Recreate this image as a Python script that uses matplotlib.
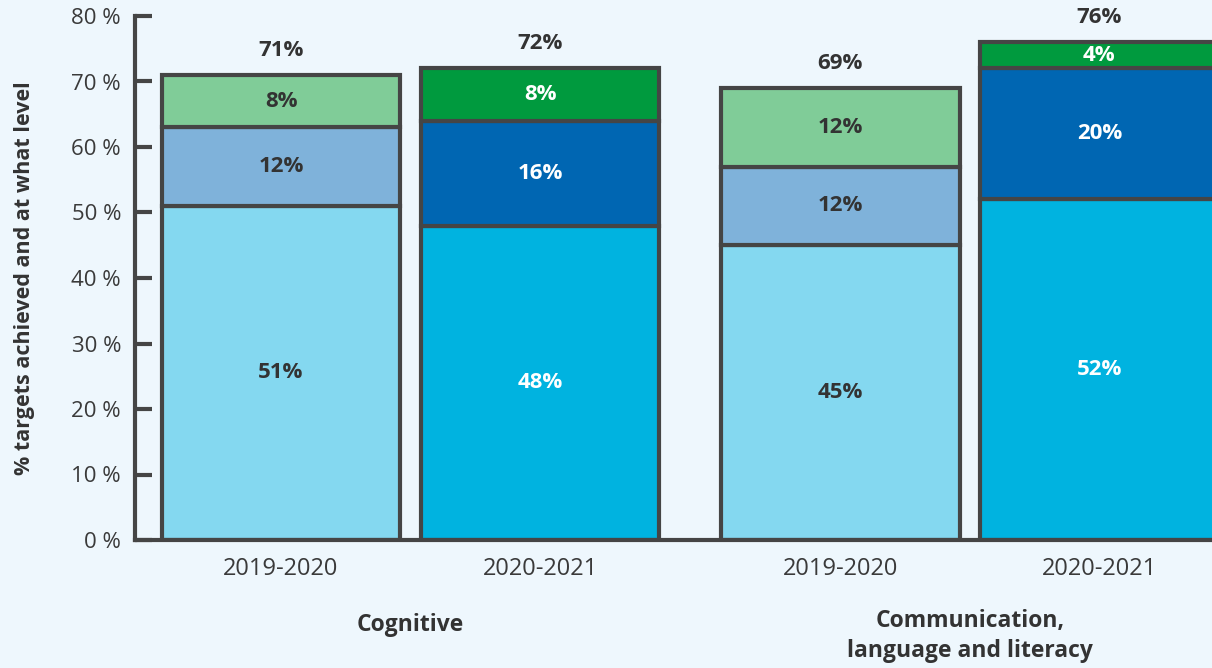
import numpy as np
import matplotlib
matplotlib.use('Agg')
from matplotlib import pyplot as plt
from matplotlib.transforms import blended_transform_factory

plt.rcParams['font.family'] = ['Open Sans', 'DejaVu Sans']

# data
years = ['2019-2020', '2020-2021', '2019-2020', '2020-2021']
groups = ['Cognitive', 'Communication,\nlanguage and literacy']
base = [51, 48, 45, 52]
middle = [12, 16, 12, 20]
top = [8, 8, 12, 4]
totals = [71, 72, 69, 76]
ytick_vals = [0, 10, 20, 30, 40, 50, 60, 70, 80]
ytick_labels = ['0 %', '10 %', '20 %', '30 %', '40 %', '50 %', '60 %', '70 %', '80 %']

bg = '#eef7fd'
edge = '#454545'
txt = '#333333'
col_base = ['#84d8f0', '#00b3e0', '#84d8f0', '#00b3e0']
col_mid = ['#7fb2da', '#0066b2', '#7fb2da', '#0066b2']
col_top = ['#80cc98', '#009a3e', '#80cc98', '#009a3e']
lab_col = [txt, 'white', txt, 'white']

x = np.array([0, 1, 2.16, 3.16])
w = 0.92

fig = plt.figure(figsize=(12.12, 6.68), dpi=100, facecolor=bg)
ax = fig.add_axes([135/1212, 128/668, 1 - 135/1212, (540-16)/668])
ax.set_facecolor(bg)

base = np.array(base); middle = np.array(middle); top = np.array(top)
ax.bar(x, base, w, color=col_base, edgecolor=edge, linewidth=3, zorder=2)
ax.bar(x, middle, w, bottom=base, color=col_mid, edgecolor=edge, linewidth=3, zorder=2)
ax.bar(x, top, w, bottom=base + middle, color=col_top, edgecolor=edge, linewidth=3, zorder=2)

for i in range(len(x)):
    kw = dict(ha='center', va='center', fontsize=16, fontweight='bold', color=lab_col[i], zorder=3)
    ax.text(x[i], base[i] / 2, '%d%%' % base[i], **kw)
    ax.text(x[i], base[i] + middle[i] / 2, '%d%%' % middle[i], **kw)
    ax.text(x[i], base[i] + middle[i] + top[i] / 2, '%d%%' % top[i], **kw)
    ax.text(x[i], base[i] + middle[i] + top[i] + 3.8, '%d%%' % totals[i],
            ha='center', va='center', fontsize=16, fontweight='bold', color=txt, clip_on=False)

ax.set_xlim(-0.564, 3.595)
ax.set_ylim(0, 80)
ax.set_yticks(ytick_vals)
ax.set_yticklabels(ytick_labels)
ax.set_xticks(x)
ax.set_xticklabels(years)
ax.tick_params(axis='y', direction='in', length=12, width=3, color=edge, labelsize=16,
               labelcolor='#3a3a3a', pad=10)
ax.tick_params(axis='x', length=0, labelsize=17, labelcolor='#3a3a3a', pad=12)

for s in ['top', 'right']:
    ax.spines[s].set_visible(False)
for s in ['left', 'bottom']:
    ax.spines[s].set_linewidth(3)
    ax.spines[s].set_color(edge)

ax.set_ylabel('% targets achieved and at what level', fontsize=15.5, fontweight='bold',
              color=txt, labelpad=26)

trans = blended_transform_factory(ax.transData, fig.transFigure)
ax.text((x[0] + x[1]) / 2, (668 - 625) / 668, groups[0], transform=trans, ha='center',
        va='center', fontsize=16.5, fontweight='bold', color=txt)
ax.text((x[2] + x[3]) / 2, (668 - 636) / 668, groups[1], transform=trans, ha='center',
        va='center', fontsize=16.5, fontweight='bold', color=txt, linespacing=1.3)

plt.savefig('out.png', dpi=100, facecolor=bg)
